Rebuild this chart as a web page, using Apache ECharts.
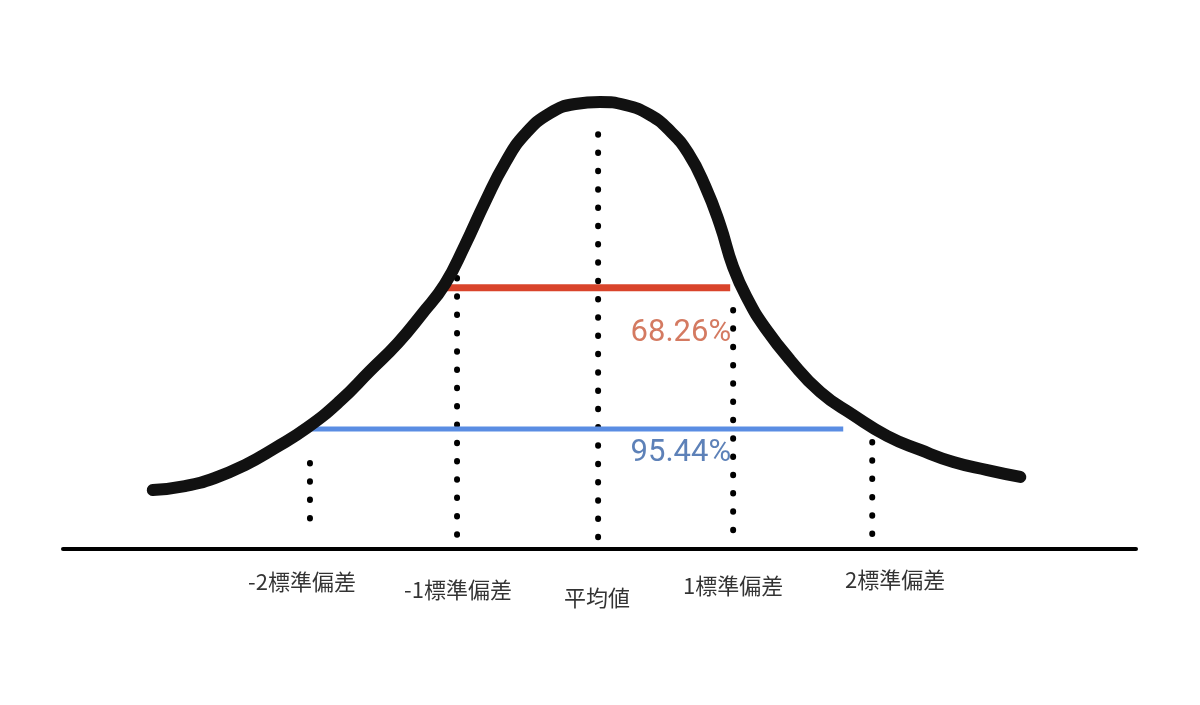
<!DOCTYPE html>
<html>
<head>
<meta charset="utf-8">
<script src="https://cdn.jsdelivr.net/npm/echarts@6/dist/echarts.min.js"></script>
<style>
html,body{margin:0;padding:0;background:#fff;}
#chart{width:1200px;height:705px;}
</style>
</head>
<body>
<div id="chart"></div>
<script>
// Hand-drawn bell curve (x in standard deviations, y density-like)
const curveX = [-3.179,-2.950,-2.736,-2.521,-2.307,-2.079,-1.843,-1.629,-1.429,-1.257,-1.093,-0.950,-0.807,-0.664,-0.521,-0.343,-0.164,0.014,0.193,0.371,0.514,0.643,0.764,0.871,0.964,1.071,1.193,1.371,1.586,1.821,2.064,2.300,2.536,2.779,3.014];
const curveY = [0.0528,0.0564,0.0636,0.0752,0.0904,0.1084,0.1325,0.1594,0.1845,0.2105,0.2373,0.2722,0.3107,0.3457,0.3716,0.3904,0.3985,0.4003,0.3976,0.3886,0.3743,0.3546,0.3251,0.2902,0.2525,0.2230,0.1979,0.1692,0.1406,0.1200,0.1012,0.0887,0.0779,0.0707,0.0645];

// Vertical dotted guides
const guideX      = [-2.057,-1.007,0.000,0.964,1.957];
const guideTop    = [0.0770,0.2427,0.3714,0.2140,0.0958];
const guideBottom = [0.0260,0.0116,0.0054,0.0161,0.0116];

// Horizontal ranges
const band68X = [-1.079,0.943]; const band68Y = 0.234;
const band95X = [-2.057,1.750]; const band95Y = 0.1075;

// Texts
const pctLabels = ['68.26%','95.44%'];
const pctX = [0.95,0.95];
const pctY = [0.1934,0.0860];

const tickLabels = ['-2標準偏差','-1標準偏差','平均値','1標準偏差','2標準偏差'];
const tickLabelX = [-2.114,-1.000,-0.007,0.964,2.120];
const tickLabelY = [-0.0296,-0.0367,-0.0439,-0.0331,-0.0278];

const chart = echarts.init(document.getElementById('chart'));

const series = [];
guideX.forEach((x,i)=>{
  series.push({
    type:'line', silent:true, showSymbol:false, z:2,
    data:[[x,guideTop[i]],[x,guideBottom[i]]],
    lineStyle:{color:'#000',width:6,type:[0.5,17.8],cap:'round'}
  });
});
series.push({
  type:'line', silent:true, showSymbol:false, z:3,
  data:[[band68X[0],band68Y],[band68X[1],band68Y]],
  lineStyle:{color:'#d9442b',width:7}
});
series.push({
  type:'line', silent:true, showSymbol:false, z:3,
  data:[[band95X[0],band95Y],[band95X[1],band95Y]],
  lineStyle:{color:'#5a8de3',width:5}
});
series.push({
  type:'line', silent:true, showSymbol:false, z:4, smooth:0.5,
  data:curveX.map((x,i)=>[x,curveY[i]]),
  lineStyle:{color:'#111',width:12,cap:'round',join:'round'}
});
const pctColors = ['#c9593a','#3461a6'];
series.push({
  type:'scatter', silent:true, symbolSize:0, z:5,
  data:pctLabels.map((t,i)=>({value:[pctX[i],pctY[i]],name:t,
    label:{color:pctColors[i]}})),
  label:{show:true,formatter:p=>p.name,position:[0,0],align:'right',verticalAlign:'middle',
    fontSize:31,fontFamily:'Roboto',fontWeight:'normal'}
});
series.push({
  type:'scatter', silent:true, symbolSize:0, z:5,
  data:tickLabels.map((t,i)=>({value:[tickLabelX[i],tickLabelY[i]],name:t})),
  label:{show:true,formatter:p=>p.name,position:[0,0],align:'center',verticalAlign:'middle',
    fontSize:22,color:'#000',fontFamily:'"Noto Sans CJK JP", sans-serif'}
});

chart.setOption({
  animation:false,
  backgroundColor:'#fff',
  grid:{left:63,right:64,top:80,bottom:22},
  xAxis:{type:'value',min:-3.82,max:3.84,
    axisLine:{show:true,onZero:true,lineStyle:{color:'#000',width:4}},
    axisTick:{show:false},axisLabel:{show:false},splitLine:{show:false}},
  yAxis:{type:'value',min:-0.12,max:0.42,show:false,splitLine:{show:false}},
  series:series
});
</script>
</body>
</html>
